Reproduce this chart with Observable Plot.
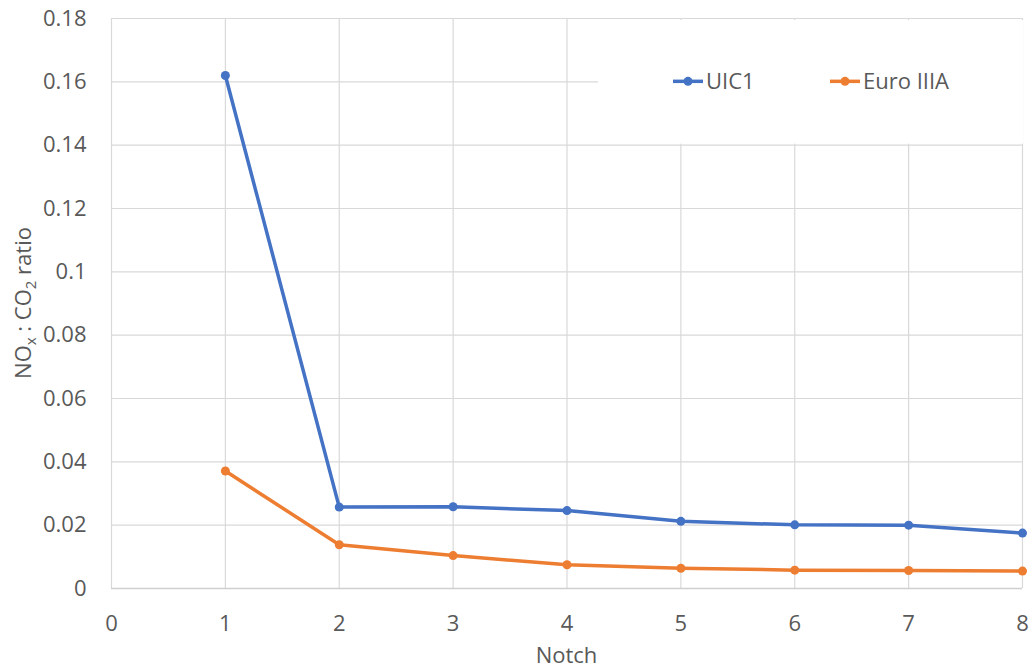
<!DOCTYPE html>
<html>
<head>
<meta charset="utf-8">
<script src="https://cdn.jsdelivr.net/npm/d3@7"></script>
<script src="https://cdn.jsdelivr.net/npm/@observablehq/plot@0.6"></script>
<style>
  html, body { margin: 0; padding: 0; background: #ffffff; }
  #chart { width: 1029px; height: 668px; }
</style>
</head>
<body>
<div id="chart"></div>
<script>
// Notch positions and NOx:CO2 ratios for each engine standard
const notches = [1, 2, 3, 4, 5, 6, 7, 8];
const uic1Ratio = [0.162, 0.0257, 0.0258, 0.0246, 0.0212, 0.0201, 0.0200, 0.0175];
const euroIIIARatio = [0.0371, 0.0138, 0.0104, 0.0075, 0.0064, 0.0058, 0.0057, 0.0055];
const seriesNames = ["UIC1", "Euro IIIA"];
const seriesColors = ["#4472C4", "#ED7D31"];
const xTicks = [0, 1, 2, 3, 4, 5, 6, 7, 8];
const xTickLabels = ["0", "1", "2", "3", "4", "5", "6", "7", "8"];
const yTicks = [0, 0.02, 0.04, 0.06, 0.08, 0.1, 0.12, 0.14, 0.16, 0.18];
const yTickLabels = ["0", "0.02", "0.04", "0.06", "0.08", "0.1", "0.12", "0.14", "0.16", "0.18"];

const rows = [
  ...notches.map((n, i) => ({notch: n, ratio: uic1Ratio[i], series: seriesNames[0]})),
  ...notches.map((n, i) => ({notch: n, ratio: euroIIIARatio[i], series: seriesNames[1]}))
];

const textColor = "#595959";
const gridColor = "#d9d9d9";
const fontFamily = "'Open Sans', 'Liberation Sans', sans-serif";

const chart = Plot.plot({
  width: 1029,
  height: 668,
  marginLeft: 111,
  marginRight: 7,
  marginTop: 18,
  marginBottom: 80,
  style: {fontFamily, fontSize: "22px", color: textColor, background: "#ffffff", overflow: "visible"},
  x: {domain: [0, 8]},
  y: {domain: [0, 0.18]},
  color: {domain: seriesNames, range: seriesColors},
  marks: [
    Plot.gridX(xTicks, {stroke: gridColor, strokeOpacity: 1, strokeWidth: 1.2}),
    Plot.gridY(yTicks, {stroke: gridColor, strokeOpacity: 1, strokeWidth: 1.2}),
    Plot.ruleY([0], {stroke: "#cfcfcf", strokeWidth: 1.4}),
    Plot.axisX(xTicks, {tickSize: 0, tickPadding: 27, label: null, fontSize: 22, fill: textColor,
      tickFormat: d => xTickLabels[xTicks.indexOf(d)]}),
    Plot.axisY(yTicks, {tickSize: 0, tickPadding: 25, label: null, fontSize: 22, fill: textColor,
      tickFormat: d => yTickLabels[yTicks.indexOf(d)]}),
    Plot.line(rows, {x: "notch", y: "ratio", stroke: "series", strokeWidth: 3.5, strokeLinejoin: "round"}),
    Plot.dot(rows, {x: "notch", y: "ratio", fill: "series", r: 4.5})
  ]
});

document.getElementById("chart").append(chart);

const svg = d3.select(chart);
const sx = chart.scale("x");
const sy = chart.scale("y");
const frameLeft = sx.apply(0), frameRight = sx.apply(8);
const frameTop = sy.apply(0.18), frameBottom = sy.apply(0);

// Axis titles
svg.append("text")
  .attr("x", (frameLeft + frameRight) / 2)
  .attr("y", frameBottom + 75)
  .attr("text-anchor", "middle")
  .attr("fill", textColor)
  .style("font-family", fontFamily)
  .style("font-size", "22px")
  .text("Notch");

const yTitle = svg.append("text")
  .attr("transform", `translate(31,${(frameTop + frameBottom) / 2}) rotate(-90)`)
  .attr("text-anchor", "middle")
  .attr("fill", textColor)
  .style("font-family", fontFamily)
  .style("font-size", "22px");
yTitle.append("tspan").text("NO");
yTitle.append("tspan").attr("dy", 5).style("font-size", "15px").text("x");
yTitle.append("tspan").attr("dy", -5).text(" : CO");
yTitle.append("tspan").attr("dy", 5).style("font-size", "15px").text("2");
yTitle.append("tspan").attr("dy", -5).text(" ratio");

// Legend panel with white background over the grid
const legendX0 = 598;
const legend = svg.append("g");
legend.append("rect")
  .attr("x", legendX0)
  .attr("y", frameTop + 2)
  .attr("width", frameRight - legendX0 + 1)
  .attr("height", sy.apply(0.14) - frameTop - 3)
  .attr("fill", "#ffffff");

const legendY = sy.apply(0.16);
const legendItemX = [673, 830];
seriesNames.forEach((name, i) => {
  const x0 = legendItemX[i];
  legend.append("line")
    .attr("x1", x0).attr("x2", x0 + 30)
    .attr("y1", legendY).attr("y2", legendY)
    .attr("stroke", seriesColors[i]).attr("stroke-width", 3.5);
  legend.append("circle")
    .attr("cx", x0 + 15).attr("cy", legendY).attr("r", 4.5)
    .attr("fill", seriesColors[i]);
  legend.append("text")
    .attr("x", x0 + 33).attr("y", legendY)
    .attr("dy", "0.36em")
    .attr("text-anchor", "start")
    .attr("fill", textColor)
    .style("font-family", fontFamily)
    .style("font-size", "22px")
    .text(name);
});
</script>
</body>
</html>
